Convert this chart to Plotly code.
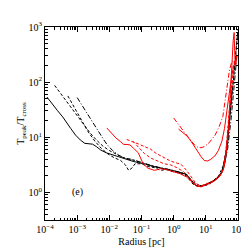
import numpy as np
import plotly.graph_objects as go

# log10(radius [pc]) and log10(T_peak/T_cross)
b1_lr = [-3.94,-3.8,-3.62,-3.45,-3.34,-3.2,-3.05,-2.9,-2.76,-2.6,-2.52,-2.4,-2.27,-2.1,-1.89,-1.7,-1.5,-1.3,-1.1,-0.9,-0.7,-0.5,-0.3,-0.1,0.1,0.25,0.4,0.52,0.62,0.75,0.9,1.05,1.2,1.35,1.5,1.6,1.68,1.75,1.82]
b1_lt = [1.73,1.62,1.49,1.37,1.27,1.16,1.04,0.95,0.89,0.88,0.875,0.83,0.77,0.72,0.68,0.64,0.60,0.57,0.54,0.52,0.48,0.45,0.43,0.41,0.37,0.35,0.33,0.24,0.16,0.11,0.12,0.16,0.2,0.26,0.36,0.55,0.9,1.4,1.9]

b2_lr = [-3.70,-3.5,-3.3,-3.1,-2.9,-2.76,-2.6,-2.4,-2.2,-2.0,-1.8,-1.6,-1.4,-1.2,-1.0,-0.8,-0.6,-0.4,-0.2,0.0,0.2,0.4,0.55,0.7,0.9,1.1,1.3,1.5,1.62,1.72,1.8,1.87,1.93,1.97,2.0]
b2_lt = [1.94,1.78,1.62,1.46,1.31,1.21,1.08,0.95,0.84,0.76,0.70,0.64,0.60,0.58,0.53,0.50,0.46,0.44,0.40,0.38,0.36,0.32,0.22,0.12,0.11,0.15,0.23,0.37,0.7,1.2,1.7,2.1,2.5,2.8,2.95]

b3_lr = [-3.29,-3.1,-2.9,-2.66,-2.45,-2.25,-2.05,-1.85,-1.65,-1.5,-1.4,-1.3,-1.2,-1.0,-0.8,-0.6,-0.4,-0.2,0.0,0.2,0.4,0.6,0.8,1.0,1.2,1.4,1.55,1.65,1.75,1.83,1.9,1.95,1.99]
b3_lt = [1.75,1.55,1.35,1.10,0.93,0.80,0.70,0.63,0.58,0.50,0.40,0.44,0.52,0.52,0.47,0.45,0.40,0.42,0.37,0.35,0.30,0.15,0.11,0.14,0.2,0.3,0.5,0.85,1.4,1.9,2.3,2.6,2.9]

b4_lr = [-3.0,-2.8,-2.6,-2.4,-2.2,-2.08,-1.9,-1.7,-1.5,-1.3,-1.1,-0.9,-0.7,-0.5,-0.3,-0.1,0.1,0.3,0.45,0.6,0.8,1.0,1.2,1.4,1.55,1.68,1.78,1.86,1.92,1.97]
b4_lt = [1.72,1.53,1.35,1.16,0.98,0.875,0.76,0.67,0.62,0.60,0.56,0.53,0.49,0.46,0.44,0.41,0.38,0.36,0.30,0.19,0.12,0.13,0.19,0.28,0.45,0.8,1.3,1.8,2.2,2.5]

r1_lr = [-2.08,-1.95,-1.8,-1.65,-1.55,-1.45,-1.35,-1.25,-1.1,-0.95,-0.8,-0.6,-0.4,-0.2,0.0,0.2,0.4,0.55,0.7,0.85,1.0,1.15,1.3,1.45,1.55,1.63,1.7,1.76,1.81,1.85,1.88,1.9,1.93,1.96]
r1_lt = [1.17,1.08,0.99,0.92,0.87,0.87,0.86,0.80,0.72,0.52,0.44,0.40,0.43,0.41,0.38,0.34,0.28,0.20,0.12,0.10,0.13,0.17,0.22,0.30,0.42,0.7,1.15,1.7,2.3,2.75,2.9,2.5,2.3,2.5]

r2_lr = [0.15,0.3,0.42,0.55,0.7,0.85,0.95,1.05,1.15,1.28,1.39,1.5,1.58,1.65,1.72,1.8,1.87,1.93]
r2_lt = [1.15,1.08,1.02,0.92,0.78,0.65,0.58,0.57,0.60,0.66,0.76,0.93,1.16,1.45,1.8,2.1,2.3,2.38]

r3_lr = [0.0,0.1,0.2,0.35,0.5,0.65,0.75,0.85,0.95,1.1,1.29,1.42,1.53,1.6,1.66,1.73,1.8,1.87,1.93]
r3_lt = [1.35,1.27,1.18,1.08,0.97,0.86,0.82,0.81,0.83,0.90,1.04,1.2,1.38,1.65,1.95,2.2,2.36,2.4,2.3]

r4_lr = [-1.46,-1.3,-1.1,-0.9,-0.73,-0.55,-0.4,-0.25,-0.1,0.05,0.23,0.4,0.55,0.7,0.85,1.0,1.2,1.4,1.55,1.63,1.7,1.77,1.84,1.9]
r4_lt = [0.96,0.93,0.88,0.83,0.79,0.71,0.66,0.62,0.57,0.54,0.51,0.40,0.27,0.16,0.12,0.15,0.2,0.28,0.45,0.8,1.3,1.8,2.25,2.4]

r5_lr = [-1.27,-1.1,-0.9,-0.7,-0.5,-0.3,-0.1,0.1,0.3,0.5,0.65,0.8,1.0,1.2,1.4,1.55,1.65,1.73,1.8,1.87]
r5_lt = [0.93,0.82,0.70,0.62,0.57,0.52,0.50,0.45,0.38,0.26,0.16,0.11,0.14,0.19,0.27,0.42,0.8,1.4,1.9,2.3]

x_tick_exp = [-4, -3, -2, -1, 0, 1, 2]
y_tick_exp = [0, 1, 2, 3]

DASH = "3px,2px"
DASHDOT = "5px,2px,1px,2px"
series = [
    (b1_lr, b1_lt, "black", "solid"),
    (b2_lr, b2_lt, "black", DASH),
    (b3_lr, b3_lt, "black", DASH),
    (b4_lr, b4_lt, "black", DASHDOT),
    (r4_lr, r4_lt, "red", DASH),
    (r5_lr, r5_lt, "red", DASH),
    (r3_lr, r3_lt, "red", DASHDOT),
    (r2_lr, r2_lt, "red", "solid"),
    (r1_lr, r1_lt, "red", "solid"),
]

fig = go.Figure()
for lr, lt, col, dash in series:
    fig.add_trace(go.Scatter(
        x=10 ** np.array(lr), y=10 ** np.array(lt), mode="lines",
        line=dict(color=col, width=1, dash=dash), showlegend=False))

def sup(e):
    return "10<sup>%s</sup>" % str(e).replace("-", "\u2212")

font = dict(family="Liberation Serif, Times New Roman, serif", size=10, color="black")
axis_common = dict(
    type="log", showgrid=False, zeroline=False, showline=True,
    linecolor="black", linewidth=1, mirror="allticks",
    ticks="inside", ticklen=5, tickcolor="black", tickwidth=1,
    minor=dict(ticks="inside", ticklen=2.5, tickcolor="black", dtick="D1", showgrid=False),
    tickfont=font,
)
fig.update_xaxes(range=[-4, 2], tickvals=[10 ** e for e in x_tick_exp],
                 ticktext=[sup(e) for e in x_tick_exp],
                 title=dict(text="Radius [pc]", font=font, standoff=3), **axis_common)
fig.update_yaxes(range=[-0.5, 3], tickvals=[10 ** e for e in y_tick_exp],
                 ticktext=[sup(e) for e in y_tick_exp],
                 title=dict(text="T<sub>peak</sub>/T<sub>cross</sub>", font=font, standoff=1),
                 **axis_common)
fig.add_annotation(x=-3, y=0, xref="x", yref="y", text="(e)", showarrow=False,
                   font=font)
fig.update_layout(width=249, height=249, margin=dict(l=27, r=14, t=14, b=27),
                  plot_bgcolor="white", paper_bgcolor="white", font=font)
fig.write_html("out.html")
